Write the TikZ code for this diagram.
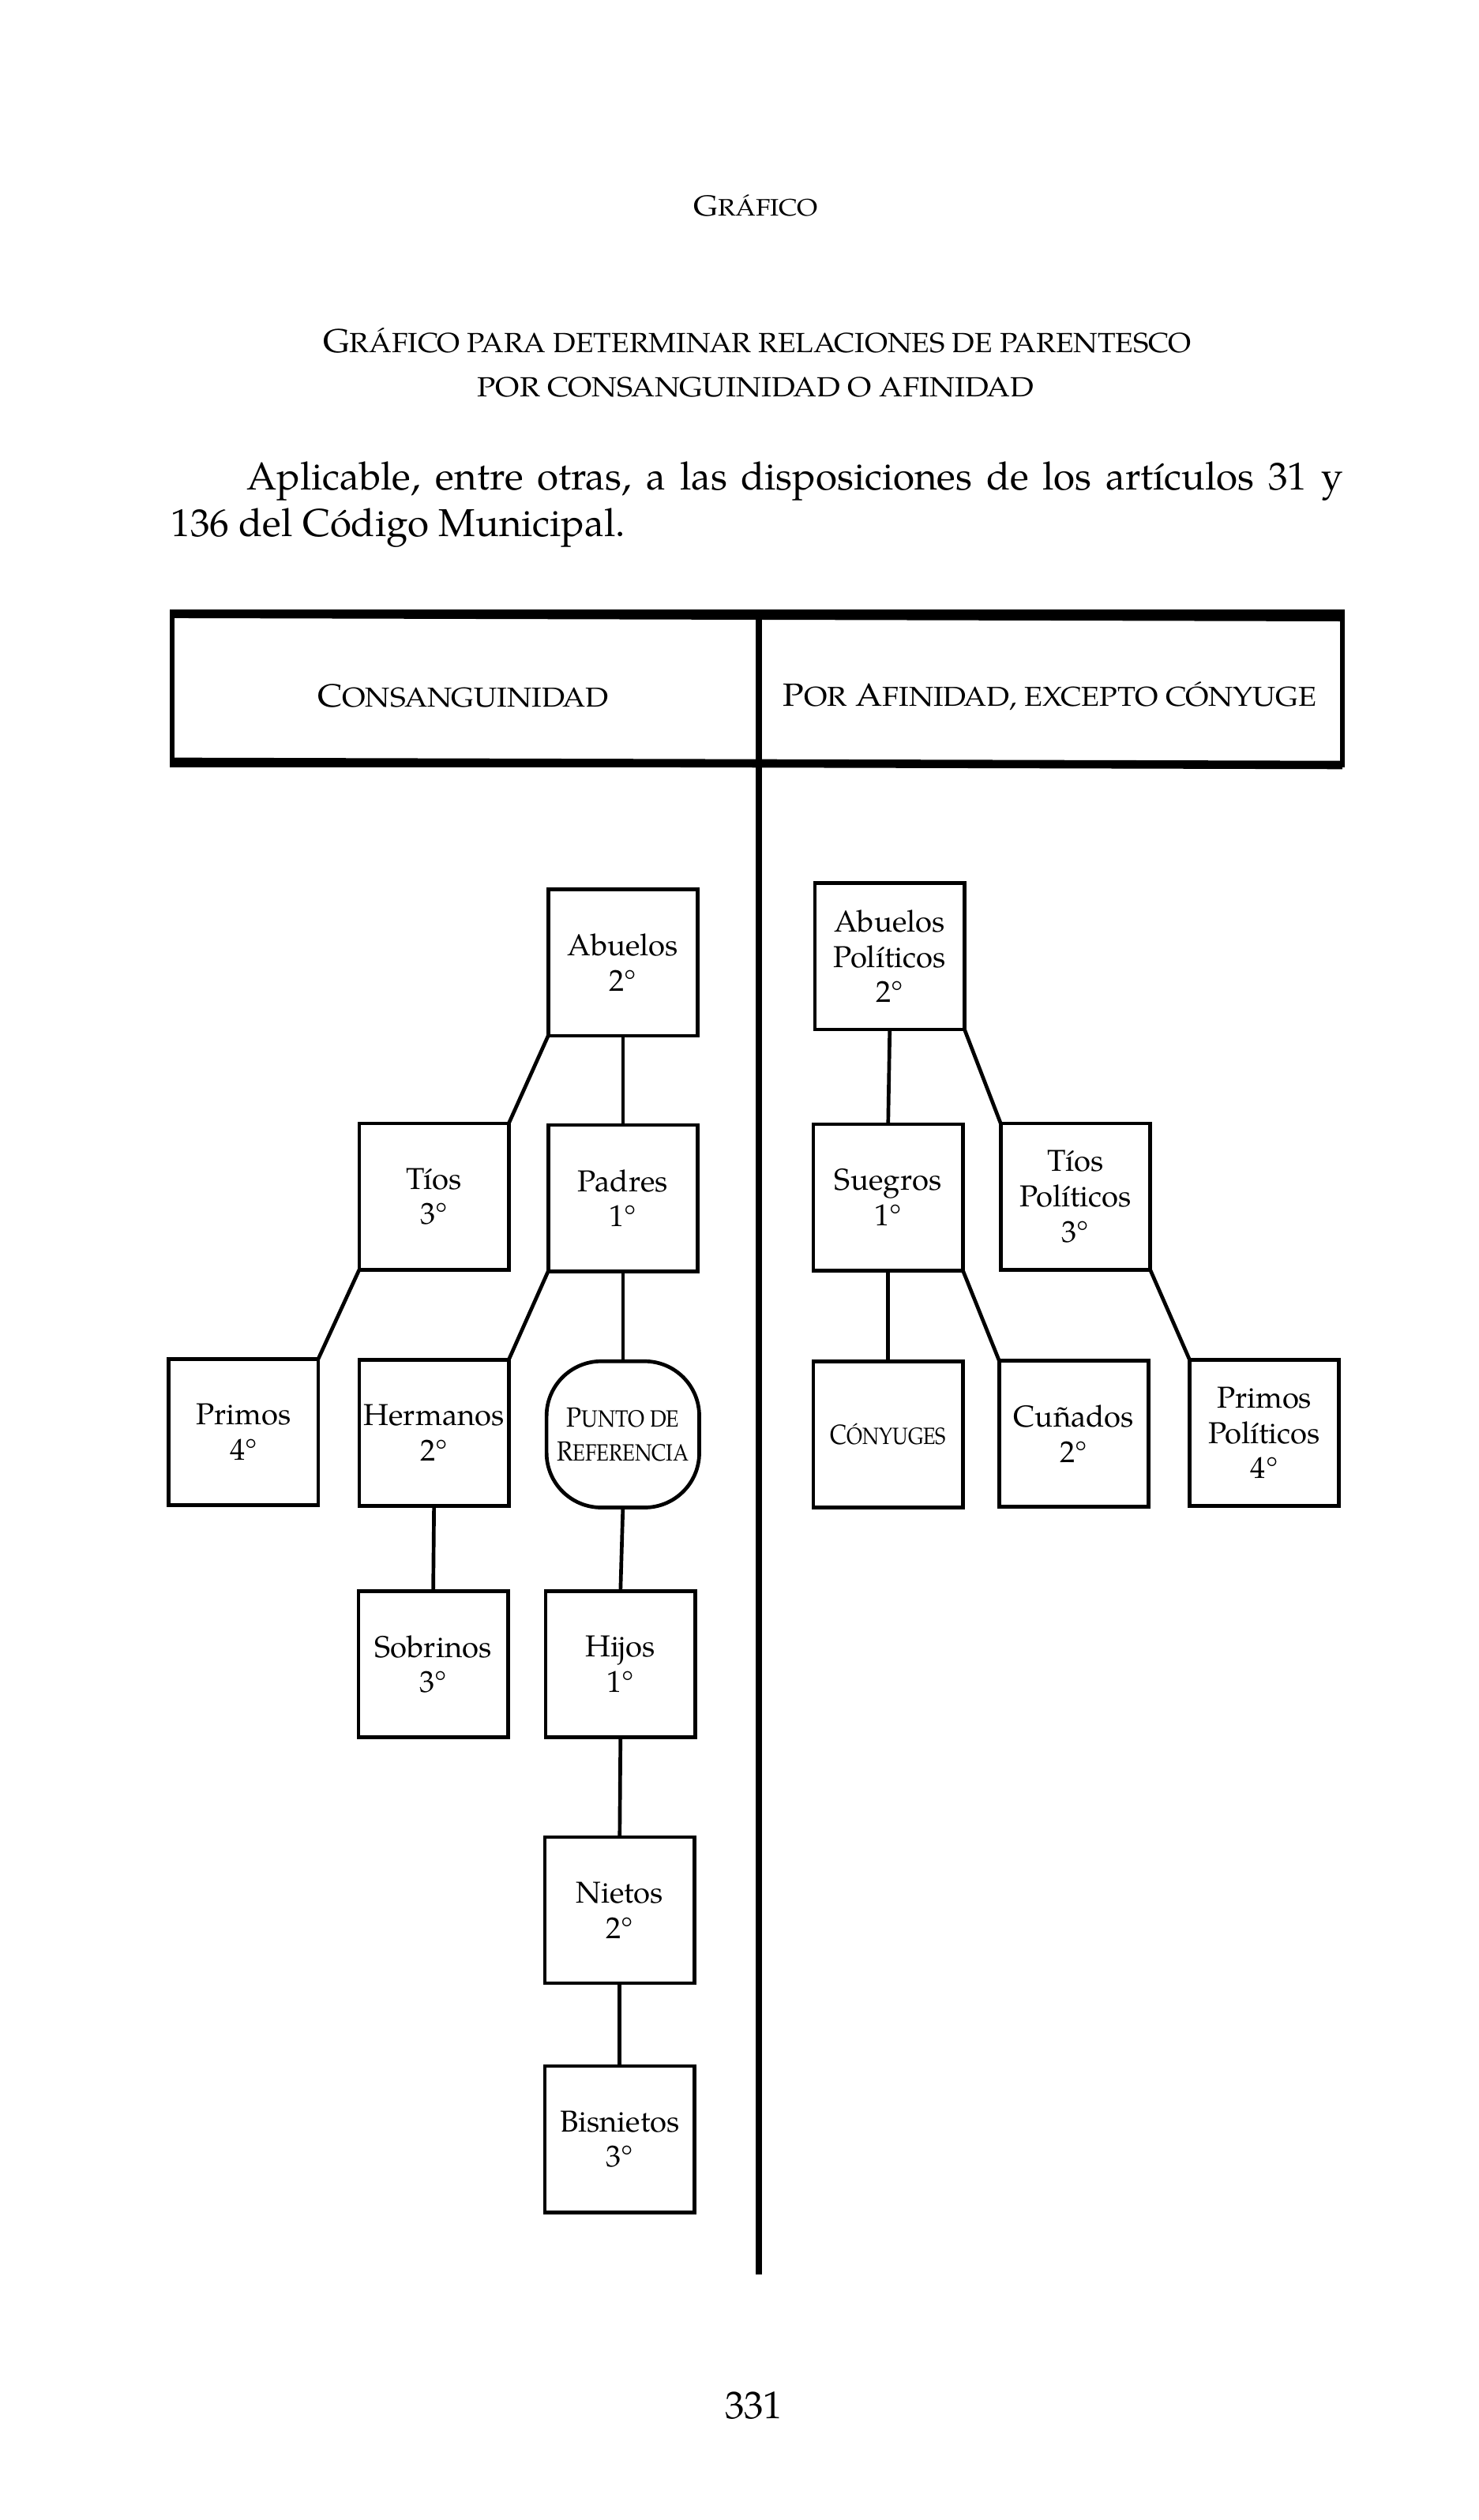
\documentclass[tikz,border=0pt]{standalone}
\usepackage{fontspec}
\setmainfont{TeX Gyre Pagella}
\newcommand{\fitw}[2]{\resizebox{#1}{\height}{#2}}
\newcommand{\scp}[2]{{\fontsize{#1}{#1}\selectfont #2}}
\begin{document}
\begin{tikzpicture}[x=0.5pt,y=-0.5pt,
  box/.style={draw, line width=1.15pt, minimum width=46.5pt, minimum height=45.5pt,
    inner sep=0pt, outer sep=0pt, align=center, font=\fontsize{9.4}{11}\selectfont},
  refbox/.style={box, minimum width=47.5pt, rounded corners=17pt},
  link/.style={line width=1.15pt},
  hdr/.style={font=\fontsize{10}{12}\selectfont, inner sep=0pt},
  ttl/.style={font=\fontsize{10}{12}\selectfont, inner sep=0pt},
  body/.style={font=\fontsize{12.1}{14}\selectfont, inner sep=0pt, anchor=base west}]
\useasboundingbox (0,0) rectangle (920,1568);
\fill[white] (0,0) rectangle (920,1568);

% page head and title
\node[inner sep=0pt] (head) at (470,128) {\fitw{38.5pt}{\scp{9}{G}\scp{7.4}{RÁFICO}}};
\node[ttl] (t1) at (471,212) {\fitw{270pt}{\scp{10.3}{G}\scp{8.6}{RÁFICO PARA DETERMINAR RELACIONES DE PARENTESCO}}};
\node[ttl] (t2) at (470,241) {\fitw{173pt}{\scp{8.6}{POR CONSANGUINIDAD O AFINIDAD}}};
\node[body] (p1) at (153,305) {\makebox[341pt][s]{Aplicable, entre otras, a las disposiciones de los artículos 31 y}};
\node[body] (p2) at (106,334) {136 del Código Municipal.};

% header table
\draw[line width=1.6pt] (107,381) rectangle (835,476);
\draw[line width=2.6pt] (107,382) -- (835,384);
\draw[line width=2.6pt] (107,474) -- (835,476);
\draw[line width=2pt] (472,381) -- (472,1415);
\node[hdr] (hc) at (288,433) {\fitw{90.5pt}{\scp{10}{C}\scp{8.5}{ONSANGUINIDAD}}};
\node[hdr] (ha) at (653,433) {\fitw{166pt}{\scp{10}{P}\scp{8.5}{OR} \scp{10}{A}\scp{8.5}{FINIDAD, EXCEPTO CÓNYUGE}}};

% left tree
\node[box] (abu) at (387.5,599) {Abuelos\\2°};
\node[box] (tio) at (270,744.5) {Tíos\\3°};
\node[box] (pad) at (387.5,745.5) {Padres\\1°};
\node[box] (pri) at (151.5,891) {Primos\\4°};
\node[box] (her) at (270,891.5) {Hermanos\\2°};
\node[refbox, font=\fontsize{9.3}{10.5}\selectfont] (ref) at (387.5,892.5)
  {\fitw{35pt}{\scp{8.6}{P}\scp{7.3}{UNTO DE}}\\\fitw{41pt}{\scp{8.6}{R}\scp{7.3}{EFERENCIA}}};
\node[box] (sob) at (269.5,1035.5) {Sobrinos\\3°};
\node[box] (hij) at (386,1035.5) {Hijos\\1°};
\node[box] (nie) at (385.5,1188.5) {Nietos\\2°};
\node[box] (bis) at (385.5,1331) {Bisnietos\\3°};

% right tree
\node[box] (apo) at (553.5,595) {Abuelos\\Políticos\\2°};
\node[box] (sue) at (552.5,745) {Suegros\\1°};
\node[box] (tpo) at (669,744.5) {Tíos\\Políticos\\3°};
\node[box] (con) at (552.5,892.5) {\fitw{36pt}{\scp{8.6}{C}\scp{7.3}{ÓNYUGES}}};
\node[box] (cun) at (668,892) {Cuñados\\2°};
\node[box] (ppo) at (786.5,891.5) {Primos\\Políticos\\4°};

% connectors left
\draw[link] (abu.south) -- (pad.north);
\draw[link] (abu.south west) -- (tio.north east);
\draw[link] (tio.south west) -- (pri.north east);
\draw[link] (pad.south west) -- (her.north east);
\draw[link] (pad.south) -- (ref.north);
\draw[link] (her.south) -- (sob.north);
\draw[link] (ref.south) -- (hij.north);
\draw[link] (hij.south) -- (nie.north);
\draw[link] (nie.south) -- (bis.north);

% connectors right
\draw[link] (apo.south) -- (sue.north);
\draw[link] (apo.south east) -- (tpo.north west);
\draw[link] (sue.south) -- (con.north);
\draw[link] (sue.south east) -- (cun.north west);
\draw[link] (tpo.south east) -- (ppo.north west);

% page number
\node[font=\fontsize{12}{14}\selectfont, inner sep=0pt] (pn) at (469,1497) {331};
\end{tikzpicture}
\end{document}
